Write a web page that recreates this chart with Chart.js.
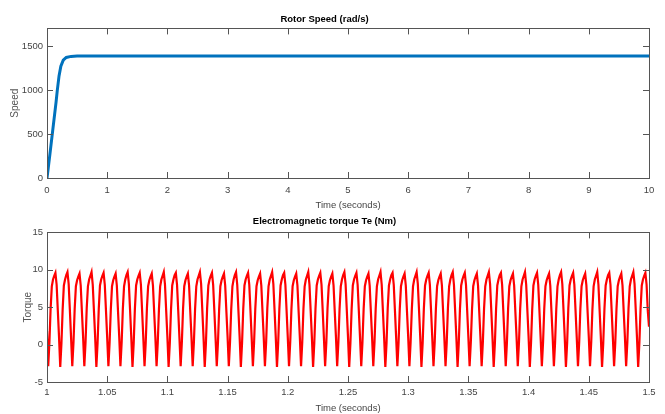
<!DOCTYPE html>
<html>
<head>
<meta charset="utf-8">
<script src="https://cdn.jsdelivr.net/npm/chart.js@4"></script>
<style>
body{margin:0;background:#fff;width:665px;height:414px;overflow:hidden;position:relative}
canvas{position:absolute;left:0}
#speedChart{top:0}
#torqueChart{top:212px}
</style>
</head>
<body>
<canvas id="speedChart" width="665" height="212"></canvas>
<canvas id="torqueChart" width="665" height="202"></canvas>
<script>

// rotor speed (rad/s) vs time (s)
const speedTime=[0,0.02,0.05,0.1,0.15,0.17,0.2,0.23,0.27,0.32,0.4,0.5,10]
const speedValues=[0,110,280,570,860,990,1160,1270,1340,1370,1382,1385,1385]
const speedTicks=[0,500,1000,1500]
const speedTimeTicks=[0,1,2,3,4,5,6,7,8,9,10]

// electromagnetic torque (Nm), sampled every 1 ms from t = 1 s
const torqueStart=1
const torqueStep=0.001
const torqueValues=[
1.8,-2.9,0.3,4.8,7.8,8.7,9.2,9.6,8.0,4.5,
1.0,-3.0,0.2,4.7,7.9,8.7,9.3,9.7,8.1,4.6,
0.9,-2.9,0.3,4.8,7.8,8.6,9.1,9.5,7.9,4.4,
1.0,-2.9,0.3,4.9,7.8,8.7,9.2,9.7,8.0,4.5,
1.0,-3.0,0.2,4.8,7.9,8.7,9.2,9.6,8.0,4.5,
0.9,-2.9,0.3,4.7,7.8,8.6,9.1,9.5,7.9,4.4,
1.0,-2.9,0.3,4.8,7.8,8.7,9.3,9.7,8.1,4.6,
1.0,-3.0,0.2,4.8,7.9,8.7,9.2,9.6,8.0,4.5,
0.9,-2.9,0.3,4.9,7.8,8.6,9.1,9.5,7.9,4.4,
1.0,-2.9,0.3,4.8,7.8,8.7,9.2,9.7,8.0,4.5,
1.0,-3.0,0.2,4.7,7.9,8.7,9.3,9.6,8.0,4.5,
0.9,-2.9,0.3,4.8,7.8,8.6,9.1,9.5,7.9,4.4,
1.0,-2.9,0.3,4.8,7.8,8.7,9.2,9.7,8.1,4.6,
1.0,-3.0,0.2,4.9,7.9,8.7,9.2,9.6,8.0,4.5,
0.9,-2.9,0.3,4.8,7.8,8.6,9.1,9.5,7.9,4.4,
1.0,-2.9,0.3,4.7,7.8,8.7,9.3,9.7,8.0,4.5,
1.0,-3.0,0.2,4.8,7.9,8.7,9.2,9.6,8.0,4.5,
0.9,-2.9,0.3,4.8,7.8,8.6,9.1,9.5,7.9,4.4,
1.0,-2.9,0.3,4.9,7.8,8.7,9.2,9.7,8.1,4.6,
1.0,-3.0,0.2,4.8,7.9,8.7,9.3,9.6,8.0,4.5,
0.9,-2.9,0.3,4.7,7.8,8.6,9.1,9.5,7.9,4.4,
1.0,-2.9,0.3,4.8,7.8,8.7,9.2,9.7,8.0,4.5,
1.0,-3.0,0.2,4.8,7.9,8.7,9.2,9.6,8.0,4.5,
0.9,-2.9,0.3,4.9,7.8,8.6,9.1,9.5,7.9,4.4,
1.0,-2.9,0.3,4.8,7.8,8.7,9.3,9.7,8.1,4.6,
1.0,-3.0,0.2,4.7,7.9,8.7,9.2,9.6,8.0,4.5,
0.9,-2.9,0.3,4.8,7.8,8.6,9.1,9.5,7.9,4.4,
1.0,-2.9,0.3,4.8,7.8,8.7,9.2,9.7,8.0,4.5,
1.0,-3.0,0.2,4.9,7.9,8.7,9.3,9.6,8.0,4.5,
0.9,-2.9,0.3,4.8,7.8,8.6,9.1,9.5,7.9,4.4,
1.0,-2.9,0.3,4.7,7.8,8.7,9.2,9.7,8.1,4.6,
1.0,-3.0,0.2,4.8,7.9,8.7,9.2,9.6,8.0,4.5,
0.9,-2.9,0.3,4.8,7.8,8.6,9.1,9.5,7.9,4.4,
1.0,-2.9,0.3,4.9,7.8,8.7,9.3,9.7,8.0,4.5,
1.0,-3.0,0.2,4.8,7.9,8.7,9.2,9.6,8.0,4.5,
0.9,-2.9,0.3,4.7,7.8,8.6,9.1,9.5,7.9,4.4,
1.0,-2.9,0.3,4.8,7.8,8.7,9.2,9.7,8.1,4.6,
1.0,-3.0,0.2,4.8,7.9,8.7,9.3,9.6,8.0,4.5,
0.9,-2.9,0.3,4.9,7.8,8.6,9.1,9.5,7.9,4.4,
1.0,-2.9,0.3,4.8,7.8,8.7,9.2,9.7,8.0,4.5,
1.0,-3.0,0.2,4.7,7.9,8.7,9.2,9.6,8.0,4.5,
0.9,-2.9,0.3,4.8,7.8,8.6,9.1,9.5,7.9,4.4,
1.0,-2.9,0.3,4.8,7.8,8.7,9.3,9.7,8.1,4.6,
1.0,-3.0,0.2,4.9,7.9,8.7,9.2,9.6,8.0,4.5,
0.9,-2.9,0.3,4.8,7.8,8.6,9.1,9.5,7.9,4.4,
1.0,-2.9,0.3,4.7,7.8,8.7,9.2,9.7,8.0,4.5,
1.0,-3.0,0.2,4.8,7.9,8.7,9.3,9.6,8.0,4.5,
0.9,-2.9,0.3,4.8,7.8,8.6,9.1,9.5,7.9,4.4,
1.0,-2.9,0.3,4.9,7.8,8.7,9.2,9.7,8.1,4.6,
1.0,-3.0,0.2,4.8,7.9,8.7,9.2,9.6,8.0,4.5,
2.4
]
const torqueTicks=[-5,0,5,10,15]
const torqueTimeTicks=[1,1.05,1.1,1.15,1.2,1.25,1.3,1.35,1.4,1.45,1.5]

const narrow="'Liberation Sans Narrow','Arial Narrow','Liberation Sans',Arial,sans-serif"
const boxColor="#555"

// matlab style box with inward ticks on all four sides
const boxTicks={
id:"boxTicks",
afterDraw(chart){
const {ctx,chartArea:a,scales}=chart
const len=6
ctx.save()
ctx.strokeStyle=boxColor
ctx.lineWidth=1
ctx.beginPath()
scales.x.ticks.forEach((t,i)=>{
const x=Math.round(scales.x.getPixelForTick(i))+0.5
ctx.moveTo(x,a.bottom);ctx.lineTo(x,a.bottom-len)
ctx.moveTo(x,a.top);ctx.lineTo(x,a.top+len)
})
scales.y.ticks.forEach((t,i)=>{
const y=Math.round(scales.y.getPixelForTick(i))+0.5
ctx.moveTo(a.left,y);ctx.lineTo(a.left+len,y)
ctx.moveTo(a.right,y);ctx.lineTo(a.right-len,y)
})
ctx.stroke()
ctx.strokeRect(Math.round(a.left)+0.5,Math.round(a.top)+0.5,Math.round(a.right-a.left),Math.round(a.bottom-a.top))
ctx.restore()
}
}

function makeChart(id,cfg){
return new Chart(document.getElementById(id),{
type:"line",
data:{datasets:[{
data:cfg.xs.map((x,i)=>({x:x,y:cfg.ys[i]})),
borderColor:cfg.color,
borderWidth:cfg.width,
pointRadius:0,
tension:0,
fill:false
}]},
options:{
responsive:false,
devicePixelRatio:1,
animation:false,
layout:{padding:{left:0,right:16,top:0,bottom:0}},
plugins:{
legend:{display:false},
tooltip:{enabled:false},
title:{
display:true,
text:cfg.title,
color:"#000",
font:{family:narrow,size:9.5,weight:"bold",lineHeight:1.2},
padding:cfg.titlePad
}
},
scales:{
x:{
type:"linear",
min:cfg.xTicks[0],
max:cfg.xTicks[cfg.xTicks.length-1],
afterBuildTicks:s=>{s.ticks=cfg.xTicks.map(v=>({value:v}))},
afterFit:s=>{s.height=cfg.xHeight},
grid:{display:false,drawTicks:false},
border:{display:false},
ticks:{color:"#444",padding:cfg.xTickPad,maxRotation:0,autoSkip:false,
font:{family:narrow,size:9.5},callback:v=>String(v)},
title:{display:true,text:"Time (seconds)",color:"#444",
font:{family:narrow,size:9.5},padding:{top:0,bottom:cfg.xTitleBottom}}
},
y:{
type:"linear",
min:cfg.yMin,
max:cfg.yMax,
afterBuildTicks:s=>{s.ticks=cfg.yTicks.map(v=>({value:v}))},
afterFit:s=>{s.width=47},
grid:{display:false,drawTicks:false},
border:{display:false},
ticks:{color:"#444",padding:4,autoSkip:false,
font:{family:narrow,size:9.5},callback:v=>String(v)},
title:{display:true,text:cfg.yLabel,color:"#555",
font:{family:"'Liberation Sans',Arial,sans-serif",size:10},padding:{top:cfg.yTitlePad,bottom:0}}
}
}
},
plugins:[boxTicks]
})
}

makeChart("speedChart",{
xs:speedTime,ys:speedValues,color:"#0072BD",width:3,
title:"Rotor Speed (rad/s)",titlePad:{top:14,bottom:3},
xTicks:speedTimeTicks,xHeight:34,xTickPad:7,xTitleBottom:1,
yMin:0,yMax:1700,yTicks:speedTicks,yLabel:"Speed",yTitlePad:9
})

makeChart("torqueChart",{
xs:torqueValues.map((v,i)=>torqueStart+i*torqueStep),ys:torqueValues,color:"#FF0000",width:2.2,
title:"Electromagnetic torque Te (Nm)",titlePad:{top:4,bottom:5},
xTicks:torqueTimeTicks,xHeight:32,xTickPad:5,xTitleBottom:0,
yMin:-5,yMax:15,yTicks:torqueTicks,yLabel:"Torque",yTitlePad:22
})

</script>
</body>
</html>
